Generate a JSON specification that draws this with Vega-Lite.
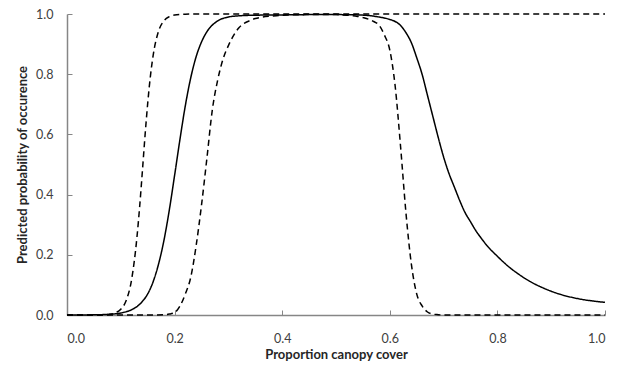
{
  "$schema": "https://vega.github.io/schema/vega-lite/v6.json",
  "width": 538,
  "height": 301,
  "autosize": {"type": "none"},
  "padding": {"left": 67, "top": 14, "right": 19, "bottom": 53},
  "background": "white",
  "config": {"view": {"stroke": null}, "font": "Lato"},
  "data": {"values": [
    {"s":"A","x":0.0,"y":0.0},{"s":"A","x":0.05,"y":0.0002},{"s":"A","x":0.08,"y":0.0028},{"s":"A","x":0.09,"y":0.0074},
    {"s":"A","x":0.10,"y":0.019},{"s":"A","x":0.11,"y":0.048},{"s":"A","x":0.12,"y":0.117},{"s":"A","x":0.13,"y":0.258},
    {"s":"A","x":0.135,"y":0.359},{"s":"A","x":0.14,"y":0.475},{"s":"A","x":0.145,"y":0.595},{"s":"A","x":0.15,"y":0.703},
    {"s":"A","x":0.155,"y":0.793},{"s":"A","x":0.16,"y":0.861},{"s":"A","x":0.17,"y":0.942},{"s":"A","x":0.18,"y":0.977},
    {"s":"A","x":0.19,"y":0.991},{"s":"A","x":0.20,"y":0.9965},{"s":"A","x":0.22,"y":0.9995},{"s":"A","x":0.25,"y":1.0},
    {"s":"A","x":0.3,"y":1.0},{"s":"A","x":0.4,"y":1.0},{"s":"A","x":0.5,"y":1.0},{"s":"A","x":0.6,"y":1.0},
    {"s":"A","x":0.7,"y":1.0},{"s":"A","x":0.8,"y":1.0},{"s":"A","x":0.9,"y":1.0},{"s":"A","x":1.0,"y":1.0},

    {"s":"B","x":0.0,"y":0.0},{"s":"B","x":0.05,"y":0.0006},{"s":"B","x":0.08,"y":0.0025},{"s":"B","x":0.10,"y":0.0066},
    {"s":"B","x":0.12,"y":0.0175},{"s":"B","x":0.13,"y":0.028},{"s":"B","x":0.14,"y":0.045},{"s":"B","x":0.15,"y":0.070},
    {"s":"B","x":0.16,"y":0.110},{"s":"B","x":0.17,"y":0.168},{"s":"B","x":0.18,"y":0.246},{"s":"B","x":0.19,"y":0.347},
    {"s":"B","x":0.20,"y":0.464},{"s":"B","x":0.21,"y":0.584},{"s":"B","x":0.22,"y":0.696},{"s":"B","x":0.23,"y":0.788},
    {"s":"B","x":0.24,"y":0.858},{"s":"B","x":0.25,"y":0.907},{"s":"B","x":0.26,"y":0.941},{"s":"B","x":0.28,"y":0.977},
    {"s":"B","x":0.30,"y":0.990},{"s":"B","x":0.32,"y":0.994},{"s":"B","x":0.35,"y":0.996},{"s":"B","x":0.40,"y":0.997},
    {"s":"B","x":0.45,"y":0.998},{"s":"B","x":0.50,"y":0.998},{"s":"B","x":0.54,"y":0.997},{"s":"B","x":0.56,"y":0.995},
    {"s":"B","x":0.58,"y":0.990},{"s":"B","x":0.60,"y":0.982},{"s":"B","x":0.61,"y":0.975},{"s":"B","x":0.62,"y":0.962},
    {"s":"B","x":0.63,"y":0.938},{"s":"B","x":0.64,"y":0.905},{"s":"B","x":0.65,"y":0.855},{"s":"B","x":0.66,"y":0.800},
    {"s":"B","x":0.67,"y":0.730},{"s":"B","x":0.68,"y":0.660},{"s":"B","x":0.69,"y":0.590},{"s":"B","x":0.70,"y":0.525},
    {"s":"B","x":0.71,"y":0.470},{"s":"B","x":0.72,"y":0.425},{"s":"B","x":0.73,"y":0.380},{"s":"B","x":0.74,"y":0.340},
    {"s":"B","x":0.75,"y":0.310},{"s":"B","x":0.76,"y":0.280},{"s":"B","x":0.77,"y":0.255},{"s":"B","x":0.78,"y":0.232},
    {"s":"B","x":0.80,"y":0.195},{"s":"B","x":0.82,"y":0.162},{"s":"B","x":0.84,"y":0.135},{"s":"B","x":0.86,"y":0.112},
    {"s":"B","x":0.88,"y":0.094},{"s":"B","x":0.90,"y":0.079},{"s":"B","x":0.92,"y":0.067},{"s":"B","x":0.94,"y":0.058},
    {"s":"B","x":0.96,"y":0.051},{"s":"B","x":0.98,"y":0.046},{"s":"B","x":1.00,"y":0.042},

    {"s":"C","x":0.0,"y":0.0},{"s":"C","x":0.10,"y":0.0},{"s":"C","x":0.15,"y":0.0},{"s":"C","x":0.18,"y":0.001},
    {"s":"C","x":0.19,"y":0.003},{"s":"C","x":0.20,"y":0.008},{"s":"C","x":0.21,"y":0.030},{"s":"C","x":0.22,"y":0.070},
    {"s":"C","x":0.23,"y":0.125},{"s":"C","x":0.24,"y":0.230},{"s":"C","x":0.25,"y":0.365},{"s":"C","x":0.26,"y":0.520},
    {"s":"C","x":0.27,"y":0.680},{"s":"C","x":0.28,"y":0.780},{"s":"C","x":0.29,"y":0.850},{"s":"C","x":0.30,"y":0.895},
    {"s":"C","x":0.31,"y":0.930},{"s":"C","x":0.32,"y":0.955},{"s":"C","x":0.33,"y":0.970},{"s":"C","x":0.34,"y":0.978},
    {"s":"C","x":0.35,"y":0.985},{"s":"C","x":0.36,"y":0.989},{"s":"C","x":0.38,"y":0.993},{"s":"C","x":0.40,"y":0.996},
    {"s":"C","x":0.45,"y":0.998},{"s":"C","x":0.50,"y":0.998},{"s":"C","x":0.52,"y":0.996},{"s":"C","x":0.54,"y":0.992},
    {"s":"C","x":0.55,"y":0.988},{"s":"C","x":0.56,"y":0.983},{"s":"C","x":0.57,"y":0.975},{"s":"C","x":0.58,"y":0.963},
    {"s":"C","x":0.59,"y":0.930},{"s":"C","x":0.60,"y":0.880},{"s":"C","x":0.61,"y":0.760},{"s":"C","x":0.62,"y":0.560},
    {"s":"C","x":0.63,"y":0.340},{"s":"C","x":0.64,"y":0.170},{"s":"C","x":0.65,"y":0.070},{"s":"C","x":0.66,"y":0.030},
    {"s":"C","x":0.67,"y":0.010},{"s":"C","x":0.68,"y":0.003},{"s":"C","x":0.69,"y":0.001},{"s":"C","x":0.70,"y":0.0},
    {"s":"C","x":0.80,"y":0.0},{"s":"C","x":0.90,"y":0.0},{"s":"C","x":1.00,"y":0.0}
  ]},
  "mark": {"type": "line", "interpolate": "monotone", "color": "black", "strokeWidth": 1.5},
  "encoding": {
    "x": {"field": "x", "type": "quantitative",
      "scale": {"domain": [0, 1], "nice": false},
      "axis": {"title": "Proportion canopy cover", "values": [0, 0.2, 0.4, 0.6, 0.8, 1.0], "format": ".1f",
        "grid": false, "domainColor": "#868686", "domainWidth": 1.5, "tickColor": "#868686", "tickWidth": 1, "tickSize": -5,
        "labelFont": "Lato", "labelFontSize": 12.5, "labelColor": "#404040", "labelPadding": 22,
        "titleFont": "Lato", "titleFontSize": 13, "titleFontWeight": "bold", "titleColor": "#262626", "titlePadding": 4}},
    "y": {"field": "y", "type": "quantitative",
      "scale": {"domain": [0, 1], "nice": false},
      "axis": {"title": "Predicted probability of occurence", "values": [0, 0.2, 0.4, 0.6, 0.8, 1.0], "format": ".1f",
        "grid": false, "domainColor": "#868686", "domainWidth": 1.5, "tickColor": "#868686", "tickWidth": 1, "tickSize": -5,
        "labelFont": "Lato", "labelFontSize": 12.5, "labelColor": "#404040", "labelPadding": 19,
        "titleFont": "Lato", "titleFontSize": 13, "titleFontWeight": "bold", "titleColor": "#262626", "titlePadding": 6}},
    "detail": {"field": "s"},
    "strokeDash": {"field": "s", "type": "nominal",
      "scale": {"domain": ["A", "B", "C"], "range": [[6, 4], [1, 0], [6, 4]]}, "legend": null}
  }
}
